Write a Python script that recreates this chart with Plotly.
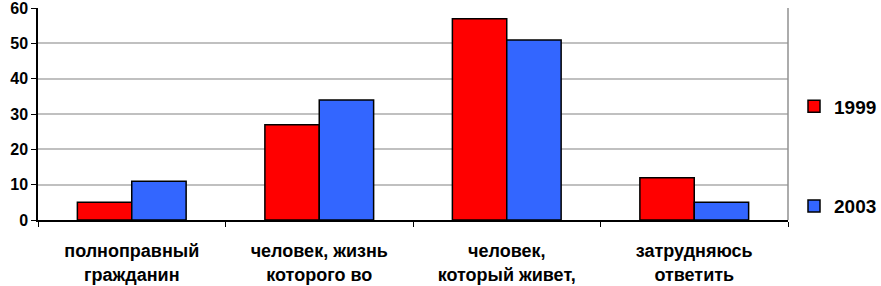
import plotly.graph_objects as go

categories = ["полноправный<br>гражданин", "человек, жизнь<br>которого во", "человек,<br>который живет,", "затрудняюсь<br>ответить"]
series_names = ["1999", "2003"]
values_1999 = [5, 27, 57, 12]
values_2003 = [11, 34, 51, 5]
y_ticks = [0, 10, 20, 30, 40, 50, 60]

fig = go.Figure()
fig.add_trace(go.Bar(x=categories, y=values_1999, name=series_names[0], legendgroup="a",
                     marker=dict(color="#ff0000", line=dict(color="black", width=1.5))))
fig.add_trace(go.Bar(x=categories, y=values_2003, name=series_names[1], legendgroup="b",
                     marker=dict(color="#3366ff", line=dict(color="black", width=1.5))))

fig.update_layout(
    width=881, height=286,
    margin=dict(l=38, r=93, t=8, b=66, autoexpand=False),
    plot_bgcolor="white", paper_bgcolor="white",
    barmode="group", bargap=0.42, bargroupgap=0,
    font=dict(family="Liberation Sans, Arial", color="black", weight=700),
    legend=dict(x=1.008, y=0.30, xanchor="left", yanchor="middle", tracegroupgap=72,
                font=dict(size=19, family="Liberation Sans, Arial", weight=700), itemwidth=30),
    xaxis=dict(showline=True, linecolor="black", linewidth=1.5, ticks="outside", tickson="boundaries",
               ticklen=5, tickcolor="black", tickfont=dict(size=18, weight=700), showgrid=False,
               automargin=False, ticklabelstandoff=14),
    yaxis=dict(range=[0, 60.05], tickvals=y_ticks, showline=True, linecolor="black", linewidth=1.5,
               ticks="outside", ticklen=5, tickcolor="black", gridcolor="#c0c0c0", gridwidth=1.5,
               tickfont=dict(size=16, weight=700), zeroline=False, automargin=False,
               ticklabeloverflow="allow"),
    shapes=[dict(type="line", xref="paper", yref="paper", x0=1, x1=1, y0=0, y1=1,
                 line=dict(color="#909090", width=1.5))],
)
fig.write_html("out.html", config={"displayModeBar": False},
               post_script="document.body.style.margin='0';")
